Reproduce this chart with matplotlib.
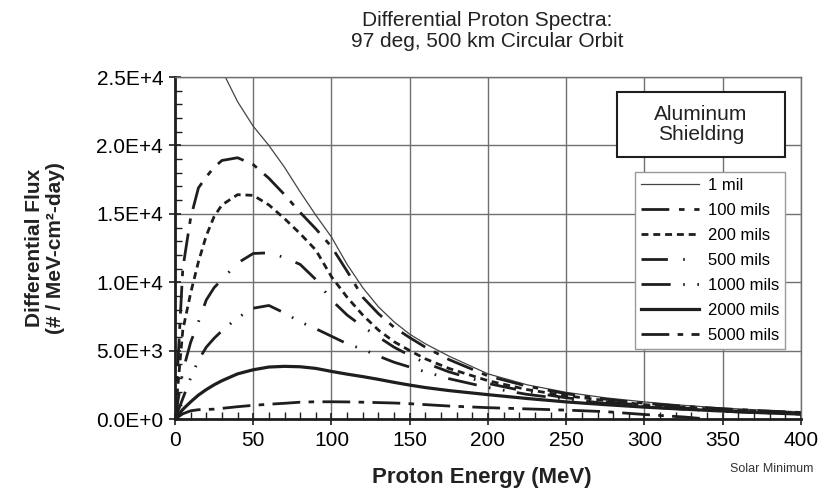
import matplotlib
matplotlib.use("Agg")
import matplotlib.pyplot as plt
from matplotlib.patches import Rectangle
from matplotlib.ticker import FuncFormatter, MultipleLocator

plt.rcParams["font.family"] = ["Liberation Sans", "DejaVu Sans"]
plt.rcParams["lines.scale_dashes"] = False

# energies (MeV) shared by the shielded curves
energy = [0, 5, 10, 15, 20, 25, 30, 40, 50, 60, 70, 80, 90, 100, 110, 120, 130,
          140, 150, 160, 175, 200, 225, 250, 275, 300, 325, 350, 375, 400]

energy_1mil = [20, 25, 30, 40, 50, 60, 70, 80, 90, 100, 110, 120, 130, 140, 150,
               160, 175, 200, 225, 250, 275, 300, 325, 350, 375, 400]
flux_1mil = [31000, 28000, 25500, 23200, 21400, 20000, 18400, 16600, 14900, 13300,
             11300, 9600, 8200, 7100, 6200, 5500, 4600, 3300, 2500, 1950, 1550,
             1250, 1000, 800, 650, 520]

flux_100 = [0, 11000, 14700, 16900, 17700, 18400, 18900, 19100, 18600, 17600, 16400,
            15100, 13900, 12600, 10800, 8900, 7700, 6700, 5950, 5250, 4350, 3150,
            2400, 1850, 1450, 1150, 930, 750, 600, 480]
flux_200 = [0, 6500, 9200, 11500, 13400, 14800, 15650, 16400, 16350, 15650, 14650,
            13550, 12350, 10400, 8900, 7600, 6500, 5650, 5000, 4400, 3700, 2800,
            2150, 1700, 1350, 1050, 850, 680, 550, 440]
flux_500 = [0, 3500, 5600, 7100, 8700, 9600, 10200, 11400, 12100, 12150, 11800,
            11300, 10200, 8700, 7600, 6750, 6000, 5250, 4650, 4100, 3450, 2600,
            2000, 1550, 1250, 1000, 800, 630, 500, 400]
flux_1000 = [0, 1500, 3000, 4300, 5250, 5900, 6450, 7400, 8100, 8300, 7750, 7100,
             6600, 6050, 5500, 5100, 4600, 4150, 3800, 3450, 2950, 2300, 1800, 1450,
             1150, 900, 720, 570, 450, 360]
flux_2000 = [0, 700, 1250, 1750, 2150, 2500, 2800, 3300, 3600, 3800, 3850, 3820, 3700,
             3480, 3280, 3100, 2900, 2680, 2480, 2300, 2080, 1780, 1500, 1250, 1050,
             870, 720, 580, 460, 360]

energy_5000 = [0, 5, 10, 15, 20, 25, 30, 40, 50, 60, 70, 80, 90, 100, 110, 120, 130,
               140, 150, 175, 200, 225, 250, 275, 300, 325, 340]
flux_5000 = [0, 380, 600, 680, 700, 720, 780, 900, 1000, 1080, 1150, 1230, 1260, 1260,
             1250, 1230, 1200, 1170, 1120, 950, 830, 740, 650, 540, 330, 150, 0]

INK = "#1e1e1e"
GRID = "#707070"


def sci_label(v, _pos):
    mant, exp = f"{v:.1E}".split("E")
    return f"{mant}E{int(exp):+d}"


fig = plt.figure(figsize=(8.18, 4.95), dpi=100)
ax = fig.add_axes([0.2139, 0.1535, 0.7653, 0.6909])

ax.plot(energy_1mil, flux_1mil, color="#444444", lw=0.9, label="1 mil")
ax.plot(energy, flux_100, color=INK, lw=2.0, ls=(0, (20, 7, 4, 7)), label="100 mils")
ax.plot(energy, flux_200, color=INK, lw=2.0, ls=(0, (5, 3.5)), label="200 mils")
ax.plot(energy, flux_500, color=INK, lw=2.0, ls=(0, (19, 11, 1.2, 11)), label="500 mils")
ax.plot(energy, flux_1000, color=INK, lw=2.0, ls=(0, (21, 9, 1.2, 9, 1.2, 9)),
        label="1000 mils")
ax.plot(energy, flux_2000, color=INK, lw=2.3, label="2000 mils")
ax.plot(energy_5000, flux_5000, color=INK, lw=2.0, ls=(0, (20, 6, 4, 6)),
        label="5000 mils")

ax.set_xlim(0, 400)
ax.set_ylim(0, 25000)
ax.xaxis.set_major_locator(MultipleLocator(50))
ax.xaxis.set_minor_locator(MultipleLocator(10))
ax.yaxis.set_major_locator(MultipleLocator(5000))
ax.yaxis.set_minor_locator(MultipleLocator(1000))
ax.yaxis.set_major_formatter(FuncFormatter(sci_label))
ax.grid(True, which="major", color=GRID, lw=1.0)
ax.set_axisbelow(True)

ax.tick_params(which="major", direction="inout", length=9, width=1.2,
               labelsize=15, color=INK)
ax.tick_params(which="minor", direction="in", length=5, width=1.0, color=INK)
ax.tick_params(axis="x", pad=4)
ax.tick_params(axis="y", pad=4)
for side in ("left", "bottom"):
    ax.spines[side].set_linewidth(2.0)
    ax.spines[side].set_color(INK)
for side in ("top", "right"):
    ax.spines[side].set_linewidth(1.0)
    ax.spines[side].set_color(GRID)

leg = ax.legend(loc="upper right", bbox_to_anchor=(0.974, 0.722), borderaxespad=0,
                fontsize=12, handlelength=3.5, handletextpad=0.5, labelspacing=0.6,
                borderpad=0.35, fancybox=False, framealpha=1.0)
leg.get_frame().set_edgecolor("#999999")
leg.get_frame().set_linewidth(1.0)

ax.add_patch(Rectangle((0.706, 0.766), 0.268, 0.19, transform=ax.transAxes,
                       facecolor="white", edgecolor=INK, lw=1.5, zorder=5))
ax.text(0.84, 0.861, "Aluminum\nShielding", transform=ax.transAxes, ha="center",
        va="center", fontsize=15, linespacing=1.1, color="#222222", zorder=6)

fig.text(487 / 818, 1 - 31 / 495, "Differential Proton Spectra:\n97 deg, 500 km Circular Orbit",
         ha="center", va="center", fontsize=15, linespacing=1.15, color="#222222")
fig.text(45 / 818, 1 - 248 / 495, "Differential Flux\n(# / MeV-cm²-day)", rotation=90,
         ha="center", va="center", fontsize=15, fontweight="bold", linespacing=1.1,
         color="#222222")
fig.text(482 / 818, 1 - 477 / 495, "Proton Energy (MeV)", ha="center", va="center",
         fontsize=16, fontweight="bold", color="#222222")
fig.text(772 / 818, 1 - 469 / 495, "Solar Minimum", ha="center", va="center",
         fontsize=9, color="#333333")

fig.savefig("out.png", dpi=100)
